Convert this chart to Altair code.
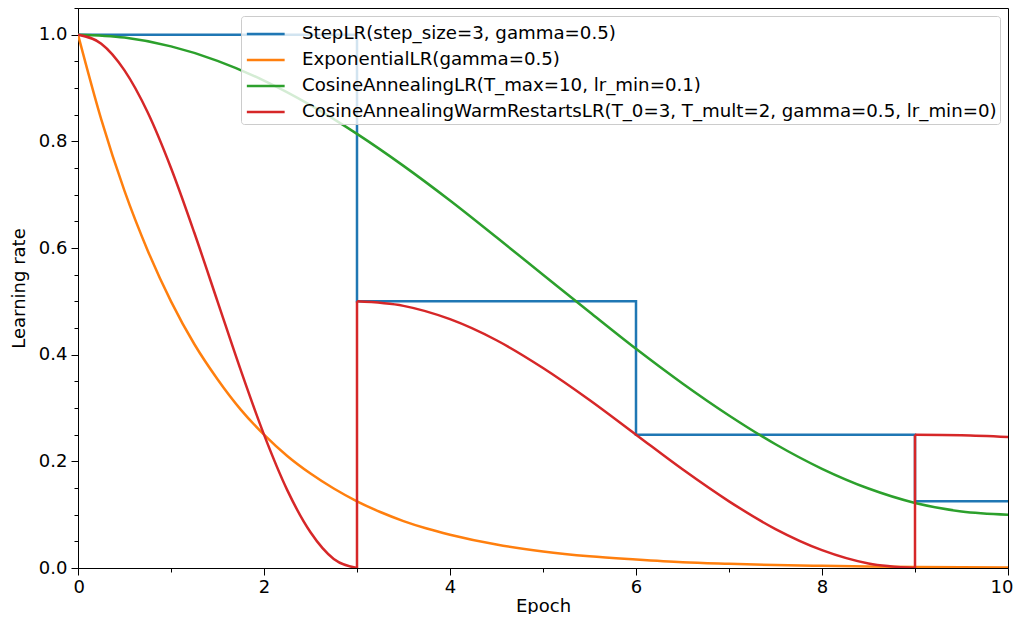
import altair as alt
import pandas as pd

# ---- data ----
series_names = [
    "StepLR(step_size=3, gamma=0.5)",
    "ExponentialLR(gamma=0.5)",
    "CosineAnnealingLR(T_max=10, lr_min=0.1)",
    "CosineAnnealingWarmRestartsLR(T_0=3, T_mult=2, gamma=0.5, lr_min=0)",
]
series_colors = ["#1f77b4", "#ff7f0e", "#2ca02c", "#d62728"]

step_x = [0, 3, 3, 6, 6, 9, 9, 10]
step_lr = [1.0, 1.0, 0.5, 0.5, 0.25, 0.25, 0.125, 0.125]

exp_x = [0, 0.25, 0.5, 0.75, 1, 1.25, 1.5, 1.75, 2, 2.25, 2.5, 2.75, 3, 3.25, 3.5,
         3.75, 4, 4.5, 5, 5.5, 6, 6.5, 7, 7.5, 8, 8.5, 9, 9.5, 10]
exp_lr = [1.0, 0.841, 0.707, 0.595, 0.5, 0.420, 0.354, 0.297, 0.25, 0.210, 0.177,
          0.149, 0.125, 0.105, 0.088, 0.074, 0.0625, 0.044, 0.031, 0.022, 0.016,
          0.011, 0.008, 0.0055, 0.004, 0.0028, 0.002, 0.0014, 0.001]

cos_x = [0, 0.5, 1, 1.5, 2, 2.5, 3, 3.5, 4, 4.5, 5, 5.5, 6, 6.5, 7, 7.5, 8, 8.5, 9, 9.5, 10]
cos_lr = [1.0, 0.9945, 0.978, 0.951, 0.914, 0.868, 0.814, 0.754, 0.689, 0.620, 0.550,
          0.480, 0.411, 0.346, 0.286, 0.232, 0.186, 0.149, 0.122, 0.106, 0.100]

warm1_x = [0, 0.25, 0.5, 0.75, 1, 1.25, 1.5, 1.75, 2, 2.25, 2.5, 2.75, 3]
warm1_lr = [1.0, 0.983, 0.933, 0.854, 0.75, 0.629, 0.5, 0.371, 0.25, 0.146, 0.067, 0.017, 0.0]
jump1_x = [3, 3]
jump1_lr = [0.0, 0.5]
warm2_x = [3, 3.5, 4, 4.5, 5, 5.5, 6, 6.5, 7, 7.5, 8, 8.5, 9]
warm2_lr = [0.5, 0.4915, 0.4665, 0.427, 0.375, 0.315, 0.25, 0.185, 0.125, 0.073, 0.0335, 0.0085, 0.0]
jump2_x = [9, 9]
jump2_lr = [0.0, 0.25]
warm3_x = [9, 9.5, 10]
warm3_lr = [0.25, 0.249, 0.2457]

x_major = [0, 2, 4, 6, 8, 10]
x_minor = [1, 3, 5, 7, 9]
y_major = [0.0, 0.2, 0.4, 0.6, 0.8, 1.0]
y_minor = [0.05, 0.1, 0.15, 0.25, 0.3, 0.35, 0.45, 0.5, 0.55, 0.65, 0.7, 0.75, 0.85, 0.9, 0.95, 1.05]


def frame(name, seg, xs, ys):
    return pd.DataFrame({"series": name, "seg": seg, "epoch": xs, "lr": ys})


df_step = frame(series_names[0], "s", step_x, step_lr)
df_exp = frame(series_names[1], "e", exp_x, exp_lr)
df_cos = frame(series_names[2], "c", cos_x, cos_lr)
df_warm = pd.concat([
    frame(series_names[3], "w1", warm1_x, warm1_lr),
    frame(series_names[3], "j1", jump1_x, jump1_lr),
    frame(series_names[3], "w2", warm2_x, warm2_lr),
    frame(series_names[3], "j2", jump2_x, jump2_lr),
    frame(series_names[3], "w3", warm3_x, warm3_lr),
])

FONT = "DejaVu Sans"
xscale = alt.Scale(domain=[0, 10], nice=False, zero=False)
yscale = alt.Scale(domain=[0, 1.05], nice=False, zero=False)
cscale = alt.Scale(domain=series_names, range=series_colors)

x_axis = alt.Axis(values=x_major, format="d", title="Epoch", grid=False, orient="bottom",
                  tickSize=7, labelPadding=3, labelFlush=True, labelFlushOffset=5,
                  titleY=43, titleBaseline="alphabetic")
y_axis = alt.Axis(values=y_major, format=".1f", title="Learning rate", grid=False, orient="left",
                  tickSize=7, labelPadding=4, titlePadding=10, labelFlush=False)

legend = alt.Legend(title=None, orient="top-right", offset=8,
                    symbolType="M-0.9,0H1.9", symbolSize=729, symbolStrokeWidth=2.5,
                    labelFontSize=18.2, labelFont=FONT,
                    labelLimit=1000, labelOffset=28, rowPadding=2, padding=3,
                    fillColor="rgba(255,255,255,0.8)", strokeColor="#cccccc", cornerRadius=3,
                    labelColor="#000000")

SW = 2.5


def series_layer(df, interp, with_axes):
    return alt.Chart(df).mark_line(strokeWidth=SW, interpolate=interp, clip=True).encode(
        x=alt.X("epoch:Q", scale=xscale, axis=x_axis if with_axes else None),
        y=alt.Y("lr:Q", scale=yscale, axis=y_axis if with_axes else None),
        color=alt.Color("series:N", scale=cscale, legend=legend, sort=series_names),
        detail="seg:N",
    )


step_layer = series_layer(df_step, "linear", True)
exp_layer = series_layer(df_exp, "monotone", False)
cos_layer = series_layer(df_cos, "monotone", False)
warm_layer = series_layer(df_warm, "monotone", False)

minor_layer = alt.Chart(pd.DataFrame({"epoch": [0], "lr": [0]})).mark_point(opacity=0).encode(
    x=alt.X("epoch:Q", scale=xscale,
            axis=alt.Axis(values=x_minor, labels=False, tickSize=4, domain=False, title=None,
                          grid=False, orient="bottom")),
    y=alt.Y("lr:Q", scale=yscale,
            axis=alt.Axis(values=y_minor, labels=False, tickSize=4, domain=False, title=None,
                          grid=False, orient="left")),
)

chart = alt.layer(step_layer, exp_layer, cos_layer, warm_layer, minor_layer).resolve_axis(
    x="independent", y="independent"
).properties(
    width=930, height=560,
    autosize=alt.AutoSizeParams(type="none"),
    padding={"left": 70, "top": 0, "right": 5, "bottom": 46},
    background="white",
).configure_view(
    stroke="black", strokeWidth=1
).configure_axis(
    domainColor="black", domainWidth=1, tickColor="black", tickWidth=1,
    labelFont=FONT, labelFontSize=18, labelColor="#000000",
    titleFont=FONT, titleFontSize=18, titleFontWeight="normal", titleColor="#000000",
)

chart.save("out.html", embed_options={"renderer": "svg", "actions": False})
